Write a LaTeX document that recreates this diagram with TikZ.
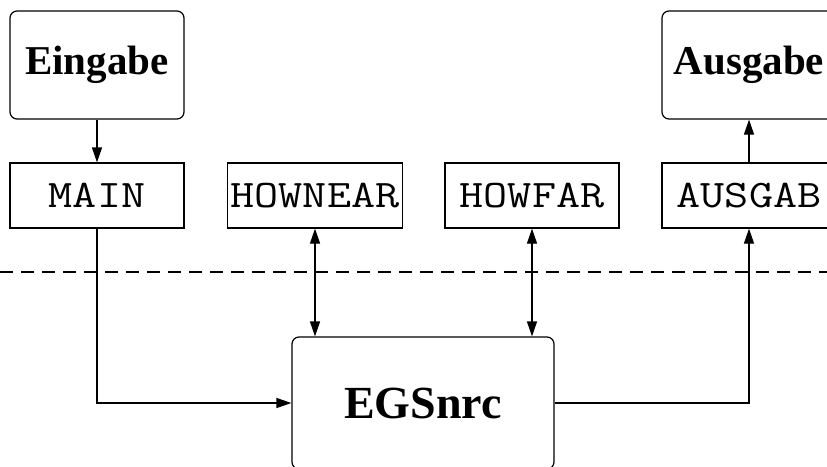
\documentclass[tikz,border=0pt]{standalone}
\usepackage{graphicx}
\usepackage{fontspec}
\setmainfont{Liberation Serif}
\usetikzlibrary{arrows.meta,positioning,calc}
\newcommand{\rtname}[1]{\scalebox{1.2}[1]{#1}}

\begin{document}
\begin{tikzpicture}[x=1pt,y=-1pt,line width=1.2pt,
  ioblock/.style={draw,rounded corners=7pt,minimum width=174pt,minimum height=108pt,
    font=\fontsize{41}{48}\selectfont\bfseries},
  routine/.style={draw,minimum width=174pt,minimum height=65pt,
    font=\fontsize{39}{46}\selectfont\ttfamily},
  tip/.style={-{Triangle[length=15pt,width=10pt]}},
  tips/.style={{Triangle[length=15pt,width=10pt]}-{Triangle[length=15pt,width=10pt]}}]
\useasboundingbox (0,0) rectangle (827,466);
% user side
\node[ioblock] (eingabe) at (97,65) {Eingabe};
\node[ioblock] (ausgabe) at (749,65) {Ausgabe};
\node[routine] (main) at (97,195.5) {\rtname{MAIN}};
\node[routine] (hownear) at (315,195.5) {\rtname{HOWNEAR}};
\node[routine] (howfar) at (532,195.5) {\rtname{HOWFAR}};
\node[routine] (ausgab) at (749,195.5) {\rtname{AUSGAB}};
% separation line
\draw[dash pattern=on 13pt off 8pt] (0,272) -- (827,272);
% code system
\node[draw,rounded corners=7pt,minimum width=262pt,minimum height=132pt,
  font=\fontsize{46}{54}\selectfont\bfseries] (egs) at (423,403) {EGSnrc};
% connections
\draw[tip] (eingabe) -- (main);
\draw[tip] (main.south) |- (egs.west);
\draw[tips] (hownear.south) -- (hownear.south |- egs.north);
\draw[tips] (howfar.south) -- (howfar.south |- egs.north);
\draw[tip] (egs.east) -| (ausgab.south);
\draw[tip] (ausgab) -- (ausgabe);
\end{tikzpicture}
\end{document}
